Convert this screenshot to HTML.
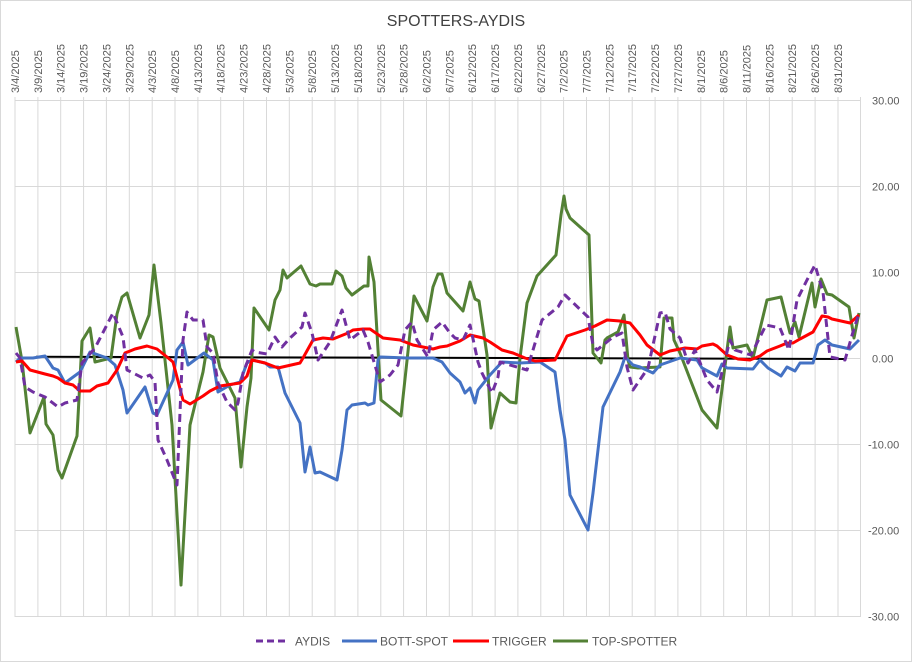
<!DOCTYPE html>
<html><head><meta charset="utf-8"><style>
body{margin:0;background:#fff;}
svg{display:block;font-family:"Liberation Sans",sans-serif;}
</style></head><body>
<svg width="912" height="662" viewBox="0 0 912 662" xmlns="http://www.w3.org/2000/svg">
<rect x="0.5" y="0.5" width="911" height="661" fill="#fff" stroke="#d9d9d9"/>
<text x="456" y="26" text-anchor="middle" font-size="16" fill="#404040">SPOTTERS-AYDIS</text>
<g stroke="#d9d9d9" stroke-width="1">
<line x1="15" y1="100.5" x2="860" y2="100.5"/>
<line x1="15" y1="186.5" x2="860" y2="186.5"/>
<line x1="15" y1="272.5" x2="860" y2="272.5"/>
<line x1="15" y1="358.5" x2="860" y2="358.5"/>
<line x1="15" y1="444.5" x2="860" y2="444.5"/>
<line x1="15" y1="530.5" x2="860" y2="530.5"/>
<line x1="15" y1="616.5" x2="860" y2="616.5"/>
<line x1="860.5" y1="97" x2="860.5" y2="617"/>
</g>
<g id="vg" stroke="#d9d9d9" stroke-width="1"></g>
<g id="lbl" font-size="11" fill="#595959"></g>
<g font-size="11" fill="#595959">
<text x="872" y="104.5">30.00</text>
<text x="872" y="190.5">20.00</text>
<text x="872" y="276.5">10.00</text>
<text x="872" y="362.5">0.00</text>
<text x="868" y="448.5">-10.00</text>
<text x="868" y="534.5">-20.00</text>
<text x="868" y="620.5">-30.00</text>
</g>
<polyline fill="none" stroke="#000" stroke-width="2" points="36,356.7 845,359"/>
<polyline fill="none" stroke="#538135" stroke-width="3" stroke-linejoin="round" points="16,327 22,361 30,433 44,397 46,424 53,435 58,470 62,478 77,436 82,341 90,328 95,362 111,358 117,314 122,297 127,293 140,338 149,315 154,265 161,323 172,425 181,585 190,425 203,372 209,335 213,337 220,368 235,398 241,467 247,407 251,378 254,308 269,330 275,300 280,290 283,270 287,278 301,266 310,284 316,286 320,284 332,284 336,271 342,276 346,288 352,295 364,286 368,286 369,257 374,282 381,400 401,416 414,296 427,321 433,287 438,274 442,274 447,293 463,311 470,282 475,299 479,301 487,355 491,428 500,393 510,402 516,403 520,358 527,303 537,276 556,255 561,215 564,196 566,209 570,218 589,235 593,353 601,363 605,340 607,338 618,332 624,315 628,360 630,367 638,368 660,367 664,318 668,318 672,318 674,340 680,353 702,410 717,428 730,327 733,348 747,345 753,358 767,300 781,297 790,333 795,322 799,337 812,283 815,307 821,279 827,294 832,295 849,307 854,338 859,313"/>
<polyline fill="none" stroke="#4472c4" stroke-width="3" stroke-linejoin="round" points="16,362 20,358 33,358 45,356 53,368 58,370 65,383 80,372 90,352 107,358 115,365 123,390 127,413 145,387 153,413 157,415 173,380 177,350 183,342 188,365 204,353 213,360 218,392 230,385 240,382 247,363 252,360 265,363 270,367 278,367 285,393 300,423 305,472 310,447 315,473 320,472 337,480 342,450 347,410 352,405 365,403 368,405 374,403 378,360 380,357 407,358 433,358 442,362 450,373 460,382 465,393 470,388 475,403 478,390 490,375 502,362 520,363 540,362 555,372 560,410 565,440 570,495 588,530 593,493 603,407 620,372 625,357 633,365 640,367 653,373 660,365 680,358 697,360 702,368 717,376 722,364 727,368 753,369 760,360 768,368 781,376 787,367 795,371 800,363 813,363 818,345 825,340 832,345 850,349 859,340"/>
<polyline fill="none" stroke="#ff0000" stroke-width="3" stroke-linejoin="round" points="16,362 22,361 30,370 45,374 53,376 58,378 65,383 73,385 80,391 90,391 97,386 108,383 117,370 125,353 135,349 147,346 157,349 167,357 173,362 183,400 190,404 203,396 210,391 220,386 240,383 247,376 252,360 265,363 278,368 300,363 303,358 313,340 323,338 333,339 348,333 353,330 363,329 370,329 383,338 400,340 413,345 433,349 440,347 447,346 460,341 470,335 483,338 490,342 502,350 513,353 525,358 535,361 555,360 567,336 585,330 595,326 607,320 620,321 630,323 640,335 647,345 660,355 670,351 685,348 697,349 702,346 713,344 717,346 727,355 738,359 750,360 760,356 767,351 780,346 787,343 793,343 800,339 813,332 822,316 828,317 832,319 850,323 859,315"/>
<polyline fill="none" stroke="#7030a0" stroke-width="3" stroke-dasharray="8,5" stroke-linejoin="round" points="16,353 20,358 25,387 33,392 45,397 58,407 65,403 77,400 82,363 95,348 113,313 123,337 127,370 143,378 150,375 155,382 158,440 167,460 177,485 183,340 187,312 193,320 203,320 207,347 213,353 218,383 227,402 235,410 238,403 243,373 252,350 255,352 267,354 275,337 282,347 290,338 302,327 305,313 312,333 318,360 330,342 342,310 350,340 363,330 368,342 380,382 390,375 398,365 405,330 412,322 417,340 428,357 433,330 442,322 450,333 455,338 463,340 470,325 478,362 482,373 492,393 498,377 500,362 527,370 542,320 558,307 565,295 588,317 593,345 597,350 613,337 622,333 627,367 633,390 648,368 660,313 665,312 670,329 680,338 688,363 695,350 707,380 717,392 730,340 735,350 751,355 766,325 780,328 789,350 797,300 807,280 815,265 823,292 830,357 845,360 853,332 859,313"/>
<g font-size="12" fill="#595959">
<line x1="256" y1="641" x2="288" y2="641" stroke="#7030a0" stroke-width="3" stroke-dasharray="7,4"/>
<text x="295" y="645.5">AYDIS</text>
<line x1="342" y1="641" x2="377" y2="641" stroke="#4472c4" stroke-width="3"/>
<text x="380" y="645.5">BOTT-SPOT</text>
<line x1="453" y1="641" x2="489" y2="641" stroke="#ff0000" stroke-width="3"/>
<text x="492" y="645.5">TRIGGER</text>
<line x1="553" y1="641" x2="588" y2="641" stroke="#538135" stroke-width="3"/>
<text x="592" y="645.5">TOP-SPOTTER</text>
</g>
<script>
var vg=document.getElementById('vg'),lb=document.getElementById('lbl'),ns='http://www.w3.org/2000/svg';
var months=[31,28,31,30,31,30,31,31,30];
for(var i=0;i<=36;i++){
 var x=15+i*22.86;var d=i*5;var m=3,day=4+d;
 while(day>months[m-1]){day-=months[m-1];m++;}
 var l=document.createElementNS(ns,'line');l.setAttribute('x1',x.toFixed(1));l.setAttribute('x2',x.toFixed(1));l.setAttribute('y1',97);l.setAttribute('y2',617);vg.appendChild(l);
 var t=document.createElementNS(ns,'text');t.setAttribute('transform','translate('+(x+4).toFixed(1)+',93) rotate(-90)');t.textContent=m+'/'+day+'/2025';lb.appendChild(t);
}
</script>
</svg>
</body></html>
